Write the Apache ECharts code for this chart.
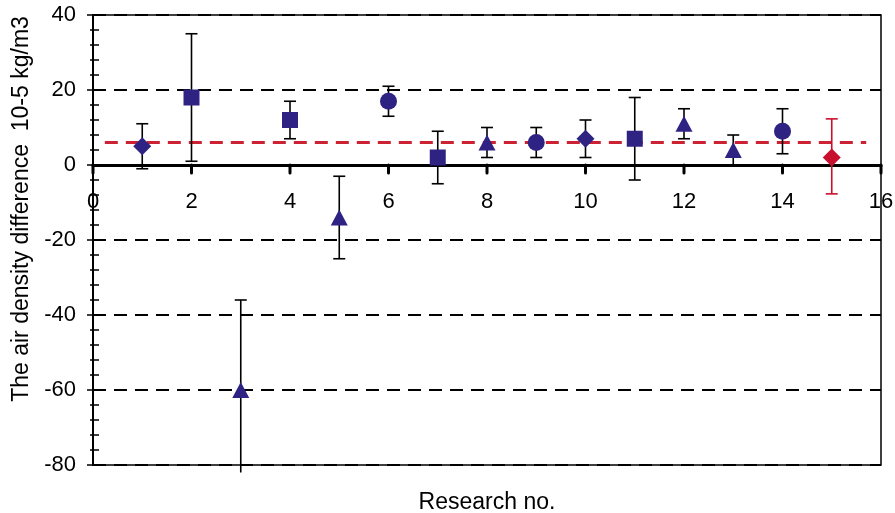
<!DOCTYPE html>
<html>
<head>
<meta charset="utf-8">
<script src="https://cdn.jsdelivr.net/npm/echarts@6/dist/echarts.min.js"></script>
<style>
  html, body { margin: 0; padding: 0; background: #fff; }
  #chart { width: 895px; height: 513px; }
</style>
</head>
<body>
<div id="chart"></div>
<script>
// research number, measured difference and its error bar ends
const researchNo = [1, 2, 3, 4, 5, 6, 7, 8, 9, 10, 11, 12, 13, 14, 15]
const diffValues = [5, 18, -60, 12, -14, 17, 2, 6, 6, 7, 7, 11, 4, 9, 2]
const errLow = [-1, 1, -82, 7, -25, 13, -5, 2, 2, 2, -4, 7, 0, 3, -7.7]
const errHigh = [11, 35, -36, 17, -3, 21, 9, 10, 10, 12, 18, 15, 8, 15, 12.3]
const markerShapes = ['diamond', 'rect', 'triangle', 'rect', 'triangle', 'circle', 'rect',
  'triangle', 'circle', 'diamond', 'rect', 'triangle', 'triangle', 'circle', 'diamond']
const meanValue = 6
const meanRange = [0.24, 15.7]
const xTickValues = [0, 2, 4, 6, 8, 10, 12, 14, 16]
const ownResult = 14 // last point is drawn in red

const NAVY = '#2e2383'
const RED = '#c8102e'
const FONT = 'Liberation Sans, Arial, sans-serif'
const Y_MIN = -80, Y_MAX = 40

const sizes = { diamond: 18, rect: 16, triangle: [17, 16], circle: 17 }

const pointData = researchNo.map((x, i) => ({
  value: [x, diffValues[i]],
  symbol: markerShapes[i],
  symbolSize: sizes[markerShapes[i]],
  itemStyle: { color: i === ownResult ? RED : NAVY, opacity: 1 }
}))

const errData = researchNo.map((x, i) => [x, errLow[i], errHigh[i]])

function renderErr(params, api) {
  const x = api.value(0)
  const lo = api.value(1)
  const hi = api.value(2)
  const pLo = api.coord([x, lo])
  const pHi = api.coord([x, hi])
  const color = params.dataIndex === ownResult ? RED : '#000'
  const style = { stroke: color, lineWidth: 1.6 }
  const cap = 6
  const children = [
    { type: 'line', shape: { x1: pLo[0], y1: pLo[1], x2: pHi[0], y2: pHi[1] }, style }
  ]
  if (hi <= Y_MAX) {
    children.push({ type: 'line', shape: { x1: pHi[0] - cap, y1: pHi[1], x2: pHi[0] + cap, y2: pHi[1] }, style })
  }
  if (lo >= Y_MIN) {
    children.push({ type: 'line', shape: { x1: pLo[0] - cap, y1: pLo[1], x2: pLo[0] + cap, y2: pLo[1] }, style })
  }
  return { type: 'group', children }
}

// the x ticks hang below the zero line
function renderTick(params, api) {
  const p = api.coord([api.value(0), api.value(1)])
  return {
    type: 'line',
    shape: { x1: p[0], y1: p[1], x2: p[0], y2: p[1] + 8 },
    style: { stroke: '#000', lineWidth: 3, lineCap: 'round' }
  }
}

const chart = echarts.init(document.getElementById('chart'))

chart.setOption({
  animation: false,
  backgroundColor: '#fff',
  textStyle: { fontFamily: FONT },
  grid: {
    left: 93, right: 14, top: 15, bottom: 48,
    outerBoundsMode: 'none',
    containLabel: false,
    show: true, borderColor: '#000', borderWidth: 1.5
  },
  xAxis: [
    {
      // sits on y = 0: plot is 450px tall for 120 units, 0 is 300px above the bottom
      type: 'value', min: 0, max: 16, interval: 2,
      position: 'bottom', offset: -300,
      axisLine: { show: true, onZero: false, lineStyle: { color: '#000', width: 3 } },
      axisTick: { show: false },
      axisLabel: { color: '#000', fontSize: 22, fontFamily: FONT, margin: 26 },
      splitLine: { show: false }
    },
    {
      type: 'value', min: 0, max: 16, position: 'bottom',
      axisLine: { show: false, onZero: false },
      axisTick: { show: false },
      axisLabel: { show: false },
      splitLine: { show: false },
      name: 'Research no.', nameLocation: 'middle', nameGap: 26,
      nameTextStyle: { color: '#000', fontSize: 23, fontFamily: FONT }
    }
  ],
  yAxis: [
    {
      type: 'value', min: Y_MIN, max: Y_MAX, interval: 20,
      axisLine: { show: true, lineStyle: { color: '#000', width: 2 } },
      axisTick: { show: true, length: 6, lineStyle: { color: '#000', width: 1.5 } },
      minorTick: { show: true, splitNumber: 5, length: 3, lineStyle: { color: '#000', width: 1.5 } },
      axisLabel: { color: '#000', fontSize: 22, fontFamily: FONT, margin: 17 },
      splitLine: { show: true, lineStyle: { color: '#000', width: 2, type: [13, 8] } },
      name: 'The air density difference  10-5 kg/m3',
      nameLocation: 'middle', nameGap: 59,
      nameTextStyle: { color: '#000', fontSize: 23, fontFamily: FONT, padding: [0, 0, 0, 62] }
    },
    {
      type: 'value', min: Y_MIN, max: Y_MAX, interval: 20, position: 'left',
      axisLine: { show: false },
      axisTick: { show: true, inside: true, length: 6, lineStyle: { color: '#000', width: 1.5 } },
      minorTick: { show: true, splitNumber: 5, length: 6, lineStyle: { color: '#000', width: 1.5 } },
      axisLabel: { show: false },
      splitLine: { show: false }
    }
  ],
  series: [
    {
      type: 'custom',
      data: xTickValues.map(v => [v, 0]),
      renderItem: renderTick,
      clip: false,
      encode: { x: 0, y: 1 },
      silent: true,
      z: 2
    },
    {
      type: 'line',
      data: [[meanRange[0], meanValue], [meanRange[1], meanValue]],
      symbol: 'none',
      lineStyle: { color: '#cc2233', width: 3, type: [13, 8] },
      z: 3
    },
    {
      type: 'custom',
      data: errData,
      renderItem: renderErr,
      clip: false,
      encode: { x: 0, y: [1, 2] },
      z: 4
    },
    {
      type: 'scatter',
      data: pointData,
      z: 5
    }
  ]
})
</script>
</body>
</html>
